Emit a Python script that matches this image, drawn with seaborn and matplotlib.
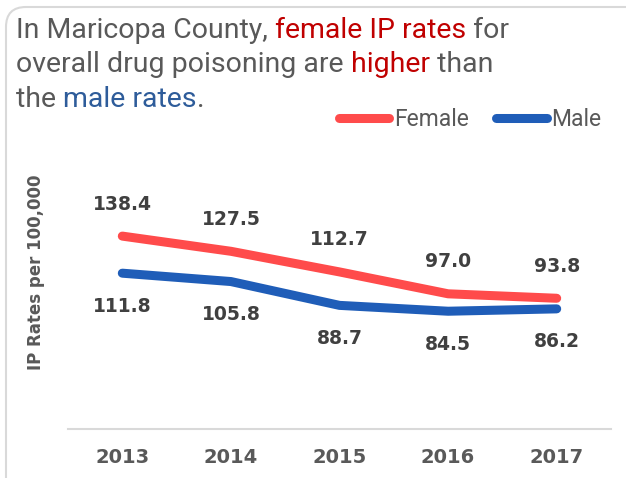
import matplotlib
matplotlib.use("Agg")
import matplotlib.pyplot as plt
import pandas as pd
import seaborn as sns
from matplotlib import font_manager
from matplotlib.patches import FancyBboxPatch

years = [2013, 2014, 2015, 2016, 2017]
female_rates = [138.4, 127.5, 112.7, 97.0, 93.8]
male_rates = [111.8, 105.8, 88.7, 84.5, 86.2]
series_names = ["Female", "Male"]
series_colors = {"Female": "#FF4B4B", "Male": "#1F5DB8"}

title_lines = [
    [("In Maricopa County, ", "#595959"), ("female IP rates", "#C00000"), (" for", "#595959")],
    [("overall drug poisoning are ", "#595959"), ("higher", "#C00000"), (" than", "#595959")],
    [("the ", "#595959"), ("male rates", "#2E5C9A"), (".", "#595959")],
]
y_label = "IP Rates per 100,000"

GRAY = "#595959"
DARK = "#404040"

installed = {f.name for f in font_manager.fontManager.ttflist}
title_font = "Roboto" if "Roboto" in installed else "DejaVu Sans"

sns.set_theme(style="white")
plt.rcParams["font.family"] = ["DejaVu Sans"]

df = pd.DataFrame({
    "year": years * 2,
    "rate": female_rates + male_rates,
    "sex": [series_names[0]] * len(years) + [series_names[1]] * len(years),
})

fig = plt.figure(figsize=(6.26, 4.78), dpi=100)
ax = fig.add_axes([68 / 626, 1 - 429 / 478, (611 - 68) / 626, (429 - 206) / 478])

sns.lineplot(data=df, x="year", y="rate", hue="sex", palette=series_colors,
             linewidth=6.5, sort=False, ax=ax, solid_capstyle="round", legend=True)

ax.set_xlim(2012.5, 2017.5)
ax.set_ylim(0, 160)
ax.set_xticks(years)
ax.set_xticklabels([str(y) for y in years], fontsize=14, fontweight="bold", color=GRAY)
ax.tick_params(axis="x", length=0, pad=14)
ax.set_yticks([])
ax.set_xlabel("")
ax.set_ylabel("")
for side in ["top", "right", "left"]:
    ax.spines[side].set_visible(False)
ax.spines["bottom"].set_color("#D9D9D9")
ax.spines["bottom"].set_linewidth(1.5)

# data labels
for sex, vals, off in [("Female", female_rates, 32), ("Male", male_rates, -33)]:
    for x, v in zip(years, vals):
        ax.annotate(f"{v:.1f}", (x, v), xytext=(0, off * 0.72), textcoords="offset points",
                    ha="center", va="center", fontsize=13.5, fontweight="bold", color=DARK)

# y label
fig.text(36 / 626, 1 - 272 / 478, y_label, rotation=90, ha="center", va="center",
         fontsize=12, fontweight="bold", color=GRAY)

# legend
handles, labels = ax.get_legend_handles_labels()
ax.get_legend().remove()
leg = fig.legend(handles, labels, loc="center", bbox_to_anchor=(470 / 626, 1 - 120 / 478),
                 ncol=2, frameon=False, handlelength=2.2, handletextpad=0.2,
                 columnspacing=1.2, borderpad=0, prop={"family": title_font, "size": 16.5})
for line in leg.get_lines():
    line.set_linewidth(6.5)
    line.set_solid_capstyle("round")
for t in leg.get_texts():
    t.set_color(GRAY)

# multicolored title
fig.canvas.draw()
renderer = fig.canvas.get_renderer()
baselines = [38, 72.5, 107]
for parts, yy in zip(title_lines, baselines):
    x = 16
    for text, color in parts:
        t = fig.text(x / 626, 1 - yy / 478, text, color=color, fontsize=20.5,
                     family=title_font, ha="left", va="baseline")
        bb = t.get_window_extent(renderer=renderer)
        x += bb.width

# rounded border
border = FancyBboxPatch((0.06, -0.2), 6.6, 4.91, boxstyle="round,pad=0,rounding_size=0.2",
                        transform=fig.dpi_scale_trans, facecolor="none",
                        edgecolor="#D9D9D9", linewidth=1.5)
fig.patches.append(border)

fig.savefig("out.png", dpi=100)
